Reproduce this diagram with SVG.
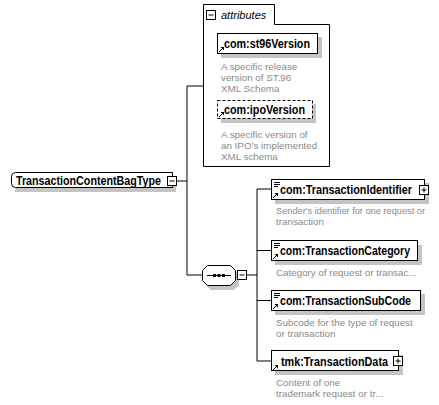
<svg xmlns="http://www.w3.org/2000/svg" width="439" height="405" viewBox="0 0 439 405">
<style>
.lbl{font-family:"Liberation Sans",Arial,sans-serif;font-size:12px;font-weight:bold;fill:#000}
.desc{font-family:"Liberation Sans",Arial,sans-serif;font-size:9.8px;fill:#8a8a8a}
.ital{font-family:"Liberation Sans",Arial,sans-serif;font-size:11px;font-style:italic;fill:#000}
.box{fill:#fff;stroke:#000;stroke-width:1}
.shadow{fill:#c4c4c4}
.ln{fill:none;stroke:#000;stroke-width:1}
.tog{fill:#fff;stroke:#000;stroke-width:1}
</style>
<defs>
<g id="arr"><path d="M0,5 L4,1" stroke="#000" stroke-width="1"/><path d="M5,0 L5,3.5 L1.5,0 Z" fill="#000"/></g>
<g id="eq"><path d="M0,0.5 H6 M0,2.5 H6 M0,4.5 H4" stroke="#000" stroke-width="1"/></g>
<g id="plus"><rect x="0.5" y="0.5" width="9" height="9" class="tog"/><path d="M2.5,5 H7.5 M5,2.5 V7.5" stroke="#000"/></g>
<g id="minus"><rect x="0.5" y="0.5" width="9" height="9" class="tog"/><path d="M2.5,5 H7.5" stroke="#000"/></g>
</defs>
<g id="connectors">
<path class="ln" d="M177,181 H187 M187,86 V275 M187,86 H203 M187,275 H202"/>
<path class="ln" d="M247,275 H257 M257,189 V361 M257,189 H271 M257,250.5 H271 M257,300.5 H271 M257,361 H271"/>
</g>
<g id="root">
<path class="shadow" d="M19,177 H176 V192 H15 Q15,192 15,190 Z"/>
<path class="box" d="M15.5,172.5 H172.5 V187.5 H15.5 Q11.5,187.5 11.5,183.5 V176.5 Q11.5,172.5 15.5,172.5 Z"/>
<text class="lbl" x="16" y="184.5" textLength="145" lengthAdjust="spacingAndGlyphs">TransactionContentBagType</text>
<use href="#minus" x="167" y="176"/>
</g>
<g id="attributes">
<path class="box" d="M203.5,4.5 H274.5 V24.5 H329.5 V166.5 H203.5 Z"/>
<use href="#minus" x="206" y="10"/>
<text class="ital" x="221" y="19">attributes</text>
</g>
<g id="st96Version">
<rect class="shadow" x="221" y="37" width="101" height="21"/>
<rect class="box" x="217.5" y="33.5" width="100" height="20"/>
<use href="#arr" x="219" y="47"/>
<text class="lbl" x="224" y="48" textLength="86" lengthAdjust="spacingAndGlyphs">com:st96Version</text>
<text class="desc" x="221" y="70">A specific release</text>
<text class="desc" x="221" y="81">version of ST.96</text>
<text class="desc" x="221" y="92">XML Schema</text>
</g>
<g id="ipoVersion">
<rect class="shadow" x="221" y="104" width="95" height="19"/>
<rect x="217.5" y="100.5" width="95" height="18" fill="#fff" stroke="#000" stroke-dasharray="3,2"/>
<use href="#arr" x="219" y="112"/>
<text class="lbl" x="224" y="114" textLength="81" lengthAdjust="spacingAndGlyphs">com:ipoVersion</text>
<text class="desc" x="221" y="138">A specific version of</text>
<text class="desc" x="221" y="149">an IPO’s implemented</text>
<text class="desc" x="221" y="160">XML schema</text>
</g>
<g id="sequence">
<path class="shadow" d="M211,270 H234 L239,275 V285 L234,290 H211 L206,285 V275 Z"/>
<path class="box" d="M207.5,265.5 H230.5 L235.5,270.5 V280.5 L230.5,285.5 H207.5 L202.5,280.5 V270.5 Z"/>
<path d="M207,275.5 H231" stroke="#000"/>
<rect x="213" y="274" width="3" height="3" fill="#000"/>
<rect x="217.5" y="274" width="3" height="3" fill="#000"/>
<rect x="222" y="274" width="3" height="3" fill="#000"/>
<use href="#minus" x="237" y="270"/>
</g>
<g id="TransactionIdentifier">
<rect class="shadow" x="275" y="183" width="154" height="21"/>
<rect class="box" x="271.5" y="179.5" width="153" height="20"/>
<use href="#eq" x="274" y="182"/>
<use href="#arr" x="273" y="193"/>
<text class="lbl" x="280" y="194" textLength="132" lengthAdjust="spacingAndGlyphs">com:TransactionIdentifier</text>
<use href="#plus" x="419" y="185"/>
<text class="desc" x="276" y="214" textLength="149" lengthAdjust="spacingAndGlyphs">Sender's identifier for one request or</text>
<text class="desc" x="276" y="225">transaction</text>
</g>
<g id="TransactionCategory">
<rect class="shadow" x="275" y="245" width="147" height="20"/>
<rect class="box" x="271.5" y="240.5" width="146" height="20"/>
<use href="#eq" x="274" y="243"/>
<use href="#arr" x="273" y="254"/>
<text class="lbl" x="280" y="255" textLength="130" lengthAdjust="spacingAndGlyphs">com:TransactionCategory</text>
<text class="desc" x="276" y="276">Category of request or transac...</text>
</g>
<g id="TransactionSubCode">
<rect class="shadow" x="275" y="294" width="150" height="21"/>
<rect class="box" x="271.5" y="290.5" width="149" height="20"/>
<use href="#eq" x="274" y="293"/>
<use href="#arr" x="273" y="304"/>
<text class="lbl" x="280" y="305" textLength="131" lengthAdjust="spacingAndGlyphs">com:TransactionSubCode</text>
<text class="desc" x="276" y="326">Subcode for the type of request</text>
<text class="desc" x="276" y="337">or transaction</text>
</g>
<g id="TransactionData">
<rect class="shadow" x="275" y="355" width="128" height="20"/>
<rect class="box" x="271.5" y="350.5" width="127" height="20"/>
<use href="#arr" x="273" y="365"/>
<text class="lbl" x="281" y="366" textLength="107" lengthAdjust="spacingAndGlyphs">tmk:TransactionData</text>
<use href="#plus" x="393" y="356"/>
<text class="desc" x="276" y="386">Content of one</text>
<text class="desc" x="276" y="397">trademark request or tr...</text>
</g>
</svg>
